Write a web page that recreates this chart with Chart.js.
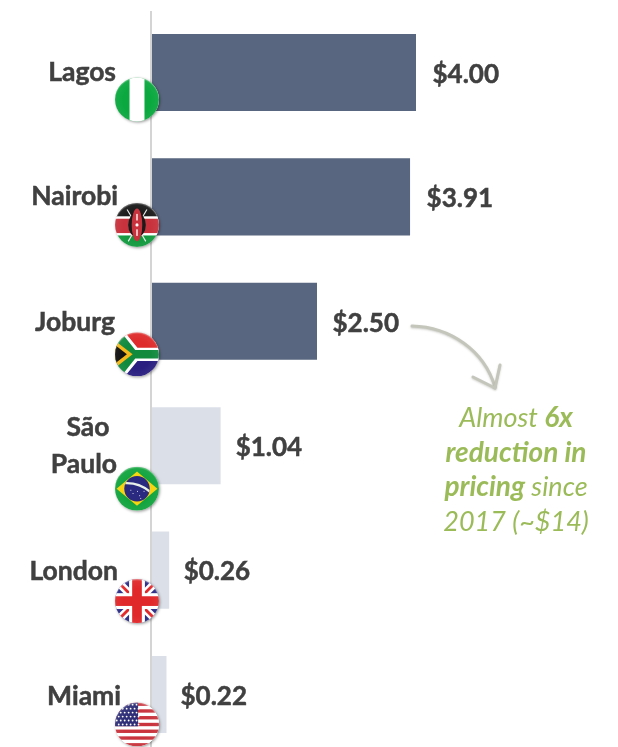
<!DOCTYPE html>
<html><head><meta charset="utf-8">
<style>html,body{margin:0;padding:0;background:#fff;overflow:hidden}
#wrap{position:relative;width:618px;height:747px;overflow:hidden}
#wrap div{position:absolute;left:0;top:0;width:618px;height:757px}</style>
<script src="https://cdn.jsdelivr.net/npm/chart.js@4/dist/chart.umd.min.js"></script>
</head><body>
<div id="wrap"><div><canvas id="c" width="618" height="757"></canvas></div></div>
<script>
const cities = ["Lagos","Nairobi","Joburg",["São","Paulo"],"London","Miami"];
const prices = [4.00,3.91,2.50,1.04,0.26,0.22];
const priceLabels = ["$4.00","$3.91","$2.50","$1.04","$0.26","$0.22"];
const barColors = ["#59667f","#59667f","#59667f","#dbe0e8","#dbe0e8","#dbe0e8"];
const flags = ["ng","ke","za","br","gb","us"];
const labelRight = [116,118,115,117,118,121];
const labelDy = [0,0,1,0,1,2];
const labelGap = [16.5,16.5,15.5,15,14.5,14];
const flagDy = [27,28,33,43,31,30];
const noteLines = [
  [["Almost ",false],["6x",true]],
  [["reduction in",true]],
  [["pricing",true],[" since",false]],
  [["2017 (~$14)",false]]
];
const FONT = 'Lato, Carlito, sans-serif';
const TEXT = '#404040', GREEN = '#9bbb59';

function rect(c,col,x,y,w,h){c.fillStyle=col;c.fillRect(x,y,w,h);}
function poly(c,col,pts){c.fillStyle=col;c.beginPath();pts.forEach((p,i)=>i?c.lineTo(p[0],p[1]):c.moveTo(p[0],p[1]));c.closePath();c.fill();}
function seg(c,col,w,a,b,d,e){c.strokeStyle=col;c.lineWidth=w;c.beginPath();c.moveTo(a,b);c.lineTo(d,e);c.stroke();}
const painters = {
  ng(c){rect(c,'#0aa83f',-1,-1,2,2);rect(c,'#fff',-.34,-1,.68,2);},
  ke(c){
    rect(c,'#1a1a1a',-1,-1,2,.62);rect(c,'#fff',-1,-.38,2,.12);rect(c,'#c8323c',-1,-.28,2,.66);
    rect(c,'#fff',-1,.38,2,.1);rect(c,'#12993f',-1,.48,2,.52);
    seg(c,'#eee',.05,-.45,-.7,.4,.75);seg(c,'#eee',.05,.45,-.7,-.4,.75);
    c.fillStyle='#1a1a1a';c.beginPath();c.ellipse(0,0,.4,.55,0,0,7);c.fill();
    c.fillStyle='#c8323c';c.beginPath();c.ellipse(0,0,.24,.74,0,0,7);c.fill();
    rect(c,'#fff',-.03,-.5,.06,.3);rect(c,'#fff',-.03,.2,.06,.3);
    c.fillStyle='#fff';c.beginPath();c.arc(0,0,.07,0,7);c.fill();
  },
  za(c){
    rect(c,'#de2b2b',-1,-1,2,1);rect(c,'#2a1f80',-1,0,2,1);
    poly(c,'#fff',[[-1,-1],[-.55,-1],[.02,-.3],[1,-.3],[1,.3],[.02,.3],[-.55,1],[-1,1]]);
    poly(c,'#118a3e',[[-1,-.85],[-.72,-1],[-.08,-.19],[1,-.19],[1,.19],[-.08,.19],[-.72,1],[-1,.85]]);
    poly(c,'#f5b81c',[[-1,-.62],[-.2,0],[-1,.62]]);
    poly(c,'#111',[[-1,-.42],[-.46,0],[-1,.42]]);
  },
  br(c){
    rect(c,'#12a43f',-1,-1,2,2);poly(c,'#f6d410',[[-.93,0],[0,-.78],[.93,0],[0,.78]]);
    c.fillStyle='#2a2a80';c.beginPath();c.arc(0,0,.58,0,7);c.fill();
    c.save();c.beginPath();c.arc(0,0,.58,0,7);c.clip();
    c.strokeStyle='#e8f0e8';c.lineWidth=.1;c.beginPath();c.moveTo(-.6,-.25);c.quadraticCurveTo(.1,-.3,.6,.15);c.stroke();c.restore();
    [[-.2,.2],[.1,.3],[.3,.1],[0,.1],[-.3,.05],[.15,.42]].forEach(p=>{c.fillStyle='#fff';c.fillRect(p[0],p[1],.04,.04);});
  },
  gb(c){
    rect(c,'#2b2a85',-1,-1,2,2);
    seg(c,'#fff',.36,-1,-1,1,1);seg(c,'#fff',.36,1,-1,-1,1);
    seg(c,'#e0282a',.13,-1,-1,1,1);seg(c,'#e0282a',.13,1,-1,-1,1);
    rect(c,'#fff',-.36,-1,.72,2);rect(c,'#fff',-1,-.36,2,.72);
    rect(c,'#e0282a',-.22,-1,.44,2);rect(c,'#e0282a',-1,-.22,2,.44);
  },
  us(c){
    rect(c,'#fff',-1,-1,2,2);
    for(let i=0;i<7;i++)rect(c,'#c9343d',-1,-1+i*2/6.5,2,2/13);
    rect(c,'#2f2f78',-1,-1,1.05,1.08);
    c.fillStyle='#fff';
    for(let r=0;r<6;r++)for(let k=0;k<6;k++){c.beginPath();c.arc(-.92+k*.18+(r%2)*.09,-.9+r*.18,.042,0,7);c.fill();}
  }
};
function drawFlag(c,kind,cx,cy,r){
  c.save();
  c.shadowColor='rgba(0,0,0,.4)';c.shadowBlur=3;c.shadowOffsetX=1;c.shadowOffsetY=1;
  c.fillStyle='#fff';c.beginPath();c.arc(cx,cy,r,0,7);c.fill();
  c.restore();
  c.save();
  c.beginPath();c.arc(cx,cy,r,0,7);c.clip();
  c.translate(cx,cy);c.scale(r,r);
  painters[kind](c);
  let g=c.createRadialGradient(0,.05,.62,0,.05,1.08);
  g.addColorStop(0,'rgba(255,255,255,0)');g.addColorStop(.75,'rgba(255,255,255,.05)');g.addColorStop(1,'rgba(255,255,255,.55)');
  c.fillStyle=g;c.fillRect(-1,-1,2,2);
  c.restore();
}
function boldText(c,s,x,y){c.fillText(s,x,y);c.lineWidth=.5;c.strokeStyle=c.fillStyle;c.strokeText(s,x,y);}
const decor = {
  id:'decor',
  beforeDatasetsDraw(ch){
    const c=ch.ctx,x0=ch.scales.x.getPixelForValue(0);
    c.save();c.fillStyle='#d4d4d4';c.fillRect(x0-2,11,2,746);c.restore();
  },
  afterDatasetsDraw(ch){
    const c=ch.ctx,y=ch.scales.y,meta=ch.getDatasetMeta(0);
    c.save();
    c.textBaseline='middle';
    c.font='bold 26px '+FONT;c.fillStyle=TEXT;c.textAlign='left';
    meta.data.forEach((b,i)=>boldText(c,priceLabels[i],b.x+labelGap[i],b.y+2));
    flags.forEach((f,i)=>drawFlag(c,f,137,y.getPixelForTick(i)+flagDy[i],22));
    c.font='bold 26.5px '+FONT;c.fillStyle=TEXT;
    cities.forEach((n,i)=>{
      const py=y.getPixelForTick(i);
      if(Array.isArray(n)){
        c.textAlign='center';boldText(c,n[0],88,py-18);
        c.textAlign='right';boldText(c,n[1],labelRight[i],py+19);
      }else{c.textAlign='right';boldText(c,n,labelRight[i],py+labelDy[i]);}
    });
    c.save();
    c.strokeStyle='#c4c5bb';c.lineWidth=3;c.lineCap='round';c.lineJoin='round';
    c.shadowColor='rgba(120,120,110,.35)';c.shadowBlur=2;c.shadowOffsetY=1;
    c.beginPath();c.moveTo(412,326);c.bezierCurveTo(450,327,484,350,495,387);c.stroke();
    c.beginPath();c.moveTo(473,377);c.lineTo(495,388);c.lineTo(500,365);c.stroke();
    c.restore();
    c.fillStyle=GREEN;c.textAlign='left';
    const nf=b=>(b?'italic bold 28px ':'italic 400 27px ')+FONT;
    noteLines.forEach((runs,i)=>{
      let w=0;runs.forEach(r=>{c.font=nf(r[1]);w+=c.measureText(r[0]).width;});
      let x=516-w/2;
      runs.forEach(r=>{c.font=nf(r[1]);c.fillText(r[0],x,418+i*34.7);x+=c.measureText(r[0]).width;});
    });
    c.restore();
  }
};
new Chart(document.getElementById('c'),{
  type:'bar',
  data:{labels:cities,datasets:[{data:prices,backgroundColor:barColors,borderWidth:0,barPercentage:.62,categoryPercentage:1}]},
  options:{
    indexAxis:'y',responsive:false,animation:false,
    layout:{padding:{left:152,right:4,top:10.3,bottom:.3}},
    plugins:{legend:{display:false},tooltip:{enabled:false}},
    scales:{
      x:{min:0,max:7,display:false},
      y:{display:false}
    }
  },
  plugins:[decor]
});
</script>
</body></html>
